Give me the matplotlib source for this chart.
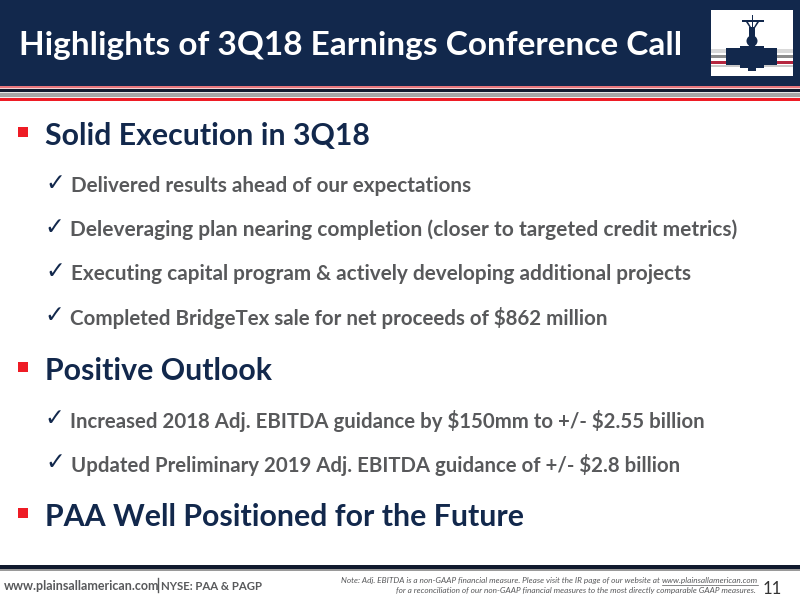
import matplotlib
matplotlib.use("Agg")
import matplotlib.pyplot as plt
from matplotlib.patches import Rectangle, Polygon, Circle

NAVY = "#12284c"
RED = "#ee1c25"
GREY = "#58595b"

title = "Highlights of 3Q18 Earnings Conference Call"
headings = ["Solid Execution in 3Q18", "Positive Outlook", "PAA Well Positioned for the Future"]
checks = [
    "Delivered results ahead of our expectations",
    "Deleveraging plan nearing completion (closer to targeted credit metrics)",
    "Executing capital program & actively developing additional projects",
    r"Completed BridgeTex sale for net proceeds of \$862 million",
    r"Increased 2018 Adj. EBITDA guidance by \$150mm to +/- \$2.55 billion",
    r"Updated Preliminary 2019 Adj. EBITDA guidance of +/- \$2.8 billion",
]
website = "www.plainsallamerican.com"
ticker = "NYSE: PAA & PAGP"
note_1 = "Note: Adj. EBITDA is a non-GAAP financial measure. Please visit the IR page of our website at "
note_link = "www.plainsallamerican.com"
note_2 = "for a reconciliation of our non-GAAP financial measures to the most directly comparable GAAP measures."
page = "11"

plt.rcParams["font.family"] = ["Lato", "DejaVu Sans"]

fig = plt.figure(figsize=(8, 6), dpi=100)
ax = fig.add_axes([0, 0, 1, 1])
ax.set_xlim(0, 800)
ax.set_ylim(600, 0)
ax.axis("off")


def band(y0, y1, color, x0=0, x1=800, z=1):
    ax.add_patch(Rectangle((x0, y0), x1 - x0, y1 - y0, color=color, lw=0, zorder=z))


# header block and the stripes under it
band(0, 86, NAVY)
band(86, 88, "#e8767c")
band(88, 89, "#f4d5d6")
band(89, 92, "#111a2e")
band(92, 93, "#e6e6e6")
band(93, 97, "#a6a6a6")
band(97, 98, "#f0f0f0")
band(98, 101, RED)

ax.text(19, 45, title, color="white", fontsize=24, fontweight="bold", va="center", ha="left")

# logo
band(9.5, 76, "white", 711, 793, z=2)
band(49, 53, "#d9d9d9", 711, 793, z=3)
band(55, 58, "#8c8c8c", 711, 793, z=3)
band(61, 64, "#b5263f", 711, 793, z=3)
band(65, 67, "#c9c9c9", 711, 793, z=3)
band(48, 65, NAVY, 726, 777, z=4)
band(46, 68, NAVY, 740, 764, z=4)
band(65, 71, NAVY, 748, 756, z=4)
band(27, 48, NAVY, 749, 755, z=4)
ax.add_patch(Circle((752, 41), 5.5, color=NAVY, lw=0, zorder=4))
band(19.5, 22, NAVY, 742, 764, z=4)
band(15, 28, NAVY, 751.5, 753, z=4)
ax.add_patch(Polygon([[746, 22], [748, 22], [751, 27], [750, 28]], closed=True, color=NAVY, lw=0, zorder=4))
ax.add_patch(Polygon([[757, 22], [759, 22], [755, 28], [754, 27]], closed=True, color=NAVY, lw=0, zorder=4))

# bullets
heading_y = [136, 371, 517]
for h, y in zip(headings, heading_y):
    ax.add_patch(Rectangle((18, y - 9), 10, 10, color=RED, lw=0))
    ax.text(45, y, h, color=NAVY, fontsize=21.8, fontweight="bold", va="center", ha="left")

check_y = [186, 230, 274, 318, 421, 465]
check_x = [71, 70, 71, 70, 70, 71]
check_size = [14.9, 15.0, 14.95, 14.75, 14.65, 14.7]
for c, y, x, s in zip(checks, check_y, check_x, check_size):
    ax.text(x - 26, y - 3, "\u2713", color=NAVY, fontsize=17, va="center", ha="left",
            family="DejaVu Sans")
    ax.text(x, y, c, color=GREY, fontsize=s, fontweight="bold", va="center", ha="left")

# footer
band(565, 569, "#111a2e")
band(569, 571, "#9a9a9a")
ax.text(4, 586, website, color=GREY, fontsize=9, fontweight="bold", va="center", ha="left")
ax.plot([157.5, 157.5], [578, 592], color=GREY, lw=1)
ax.text(161, 586, ticker, color=GREY, fontsize=8.2, fontweight="bold", va="center", ha="left")

link_txt = ax.text(758, 581, note_link, color=GREY, fontsize=5.95, style="italic", va="center", ha="right")
fig.canvas.draw()
box = link_txt.get_window_extent().transformed(ax.transData.inverted())
ax.plot([box.x0, box.x1], [585, 585], color=GREY, lw=0.5)
ax.text(box.x0, 581, note_1, color=GREY, fontsize=5.95, style="italic", va="center", ha="right")
ax.text(756, 591, note_2, color=GREY, fontsize=5.95, style="italic", va="center", ha="right")
ax.text(772, 589, page, color="#333333", fontsize=12, va="center", ha="center")

fig.savefig("out.png", dpi=100)
